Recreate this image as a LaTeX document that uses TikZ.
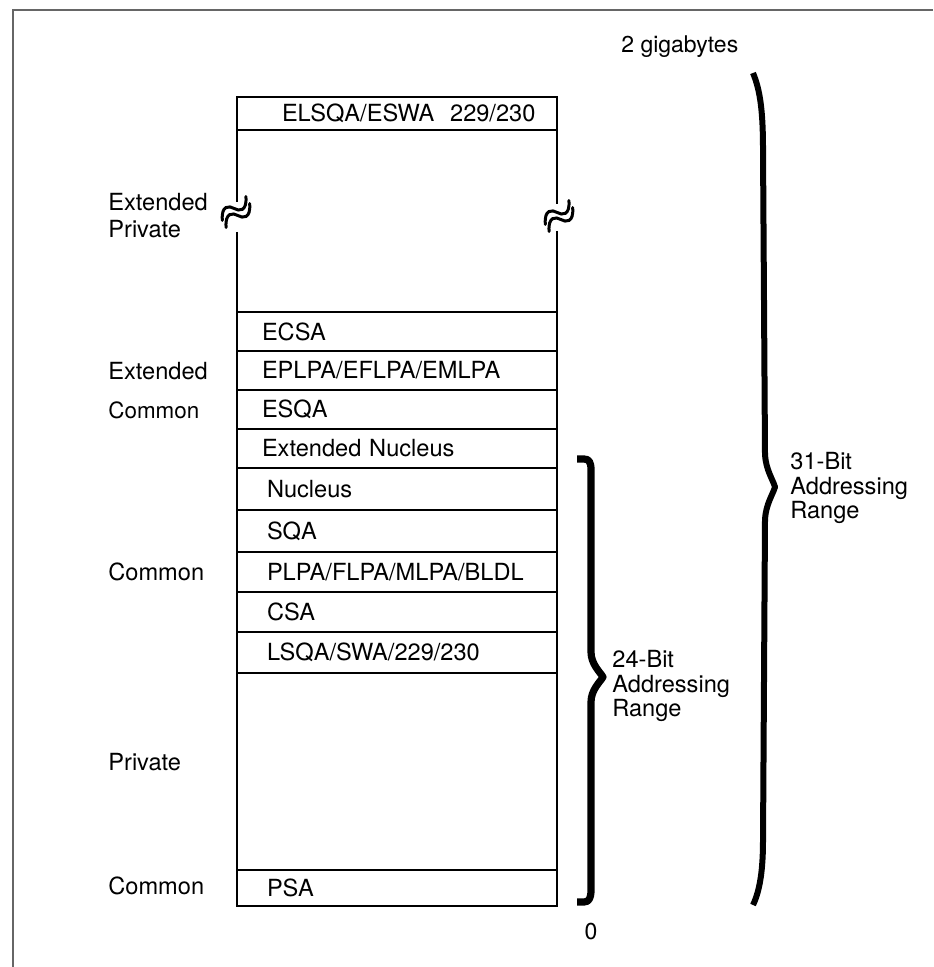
\documentclass[tikz,border=0pt]{standalone}
\usepackage{fontspec}
\setmainfont{TeX Gyre Heros}

\begin{document}
\begin{tikzpicture}[x=0.5pt, y=-0.5pt,
            lbl/.style={font=\fontsize{11.8}{12.3}\selectfont, anchor=west, inner sep=0pt, align=left},
            note/.style={font=\fontsize{11.5}{12}\selectfont, inner sep=0pt},
            row/.style={draw, line width=1.3pt, anchor=north west, outer sep=0pt, inner ysep=0pt,
                        inner xsep=12.5pt, text width=135pt, align=left, font=\fontsize{11.8}{13}\selectfont},
            rowlo/.style={row, inner xsep=15pt, text width=130pt},
            boxline/.style={line width=1.3pt},
            brace/.style={line width=3pt, line join=round},
            wave/.style={line width=1.5pt, line cap=round}
        ]
        \useasboundingbox (0,0) rectangle (933,967);
        % --- frame: only top and left edges show ---
        \draw[black!60, line width=1pt] (13,967) -- (13,10) -- (933,10);

        % --- extended part of the map ---
        \node[row, minimum height=16.5pt] (elsqa) at (237,97) {\mbox{\hspace*{10pt}ELSQA/ESWA~~229/230}};
        \node[row, minimum height=19.5pt] (ecsa) at (237,312) {ECSA};
        \node[row, minimum height=19.5pt] (eplpa) at (237,351) {EPLPA/EFLPA/EMLPA};
        \node[row, minimum height=19.5pt] (esqa) at (237,390) {ESQA};
        \node[row, minimum height=19.5pt] (extnuc) at (237,429) {Extended Nucleus};

        % extended private, sides broken
        \draw[boxline] (elsqa.south west) -- (237,202);
        \draw[boxline] (237,232) -- (ecsa.north west);
        \draw[boxline] (elsqa.south east) -- (557,204);
        \draw[boxline] (557,231) -- (ecsa.north east);
        \begin{scope}[shift={(236,212)}, rotate=28]
            \draw[wave] (-16,1) .. controls (-10,-13) and (-3,-9) .. (0,-4) .. controls (3,1) and (10,5) .. (16,-9);
            \draw[wave] (-16,9) .. controls (-10,-5) and (-3,-1) .. (0,4) .. controls (3,9) and (10,13) .. (16,-1);
        \end{scope}
        \begin{scope}[shift={(559,216)}, rotate=28]
            \draw[wave] (-16,1) .. controls (-10,-13) and (-3,-9) .. (0,-4) .. controls (3,1) and (10,5) .. (16,-9);
            \draw[wave] (-16,9) .. controls (-10,-5) and (-3,-1) .. (0,4) .. controls (3,9) and (10,13) .. (16,-1);
        \end{scope}

        % --- below the 16 MB line ---
        \node[rowlo, minimum height=21pt] (nucleus) at (237,468) {Nucleus};
        \node[rowlo, minimum height=21pt] (sqa) at (237,510) {SQA};
        \node[rowlo, minimum height=20pt] (plpa) at (237,552) {PLPA/FLPA/MLPA/BLDL};
        \node[rowlo, minimum height=20pt] (csa) at (237,592) {CSA};
        \node[rowlo, minimum height=20.5pt] (lsqa) at (237,632) {LSQA/SWA/229/230};
        \node[rowlo, minimum height=98.5pt] (priv) at (237,673) {};
        \node[rowlo, minimum height=18pt] (psa) at (237,870) {PSA};

        % --- area names ---
        \node[lbl, font=\fontsize{11.8}{13.5}\selectfont] (lextpriv) at (108,216) {Extended\\Private};
        \node[lbl] (lext) at (108,371) {Extended};
        \node[lbl, font=\fontsize{11.2}{12}\selectfont] (lextcom) at (108,410) {Common};
        \node[lbl] (lcom) at (108,572) {Common};
        \node[lbl] (lpriv) at (108,762) {Private};
        \node[lbl] (lpsacom) at (108,886) {Common};

        % --- addressing ranges ---
        \draw[brace] (753,73) .. controls (760,90) and (763,110) .. (763,150) -- (765,455)
            .. controls (766,470) and (773,480) .. (775,487) .. controls (773,494) and (766,504) .. (765,519)
            -- (763,840) .. controls (763,870) and (760,890) .. (753,905);
        \draw[brace, line width=3.6pt] (577,459) -- (584,459) .. controls (589,459) and (591,462) .. (591,470)
            -- (591,652) .. controls (591,664) and (600,672) .. (603,677) .. controls (600,682) and (591,690) .. (591,702)
            -- (591,890) .. controls (591,898) and (589,902) .. (584,902) -- (577,902);
        \node[note, anchor=west] (gig) at (621,47) {2 gigabytes};
        \node[note] (zero) at (591,932) {0};
        \node[lbl] (r31) at (790,488) {31-Bit\\Addressing\\Range};
        \node[lbl] (r24) at (612,686) {24-Bit\\Addressing\\Range};
        \end{tikzpicture}
\end{document}
